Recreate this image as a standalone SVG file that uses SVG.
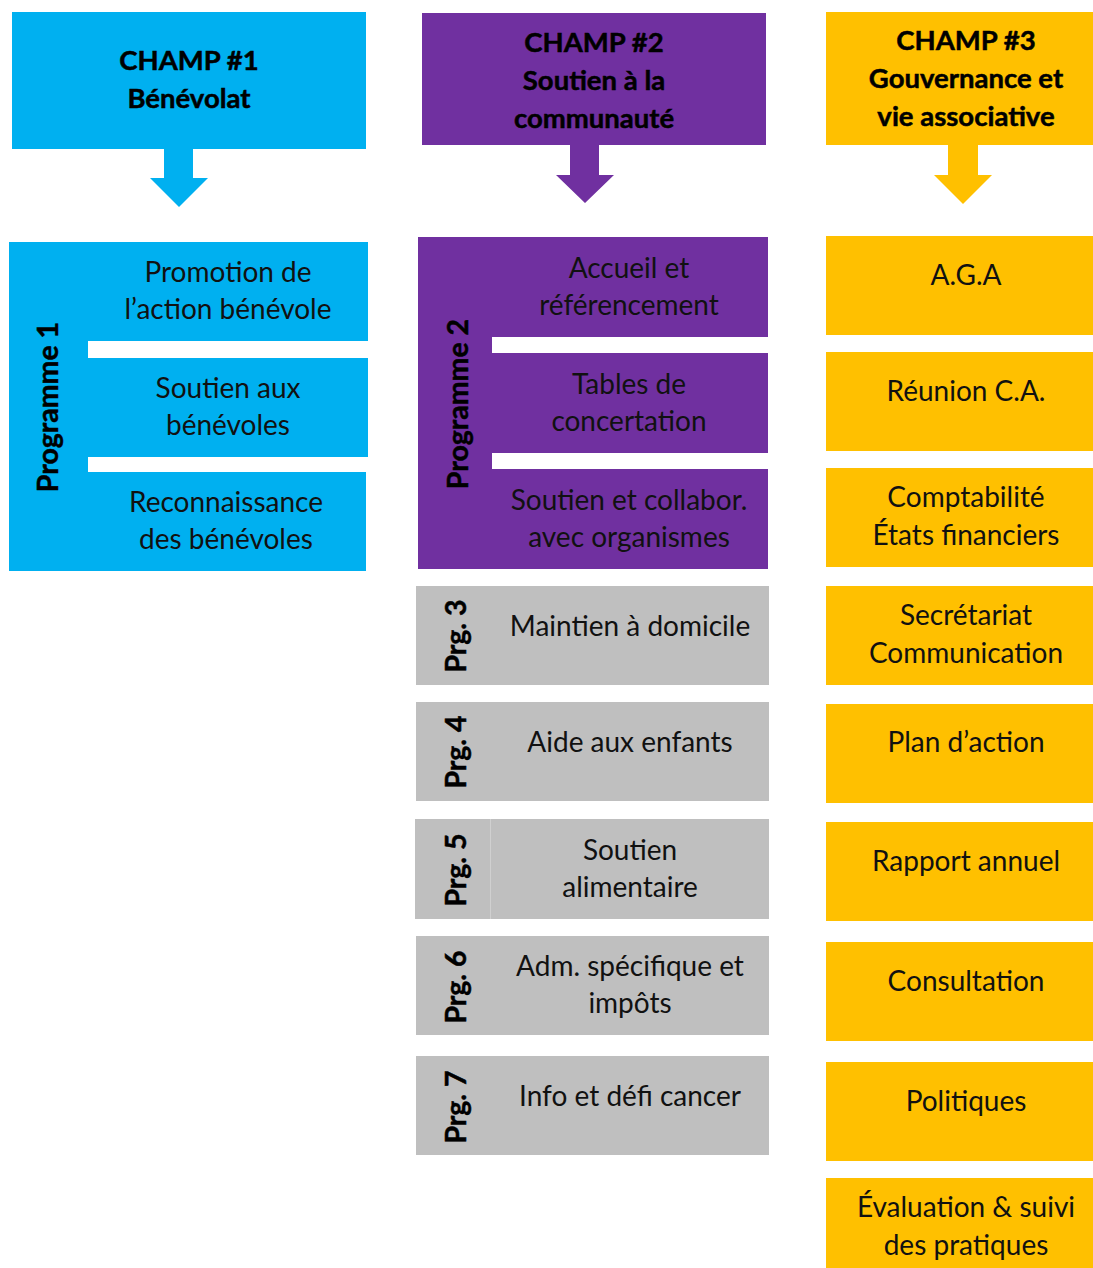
<svg xmlns="http://www.w3.org/2000/svg" width="1093" height="1268" viewBox="0 0 1093 1268">
<style>
.t{font-family:Lato,"Liberation Sans",sans-serif;font-size:28px;fill:#111;text-anchor:middle}
.h{font-family:Lato,"Liberation Sans",sans-serif;font-size:27.5px;font-weight:bold;fill:#000;stroke:#000;stroke-width:0.5px;text-anchor:middle}
.v{font-family:Lato,"Liberation Sans",sans-serif;font-size:28.5px;font-weight:bold;fill:#000;stroke:#000;stroke-width:0.5px;text-anchor:middle}
.b{fill:#00b0f0}.p{fill:#7030a0}.y{fill:#ffc000}.g{fill:#bfbfbf}
</style>
<rect width="1093" height="1268" fill="#fff"/>
<g id="champ1">
<rect class="b" x="12" y="12" width="354" height="137"/>
<text class="h" x="189" y="70">CHAMP #1</text>
<text class="h" x="189" y="108">Bénévolat</text>
</g>
<g id="champ2">
<rect class="p" x="422" y="13" width="344" height="132"/>
<text class="h" x="594" y="52">CHAMP #2</text>
<text class="h" x="594" y="90">Soutien à la</text>
<text class="h" x="594" y="128">communauté</text>
</g>
<g id="champ3">
<rect class="y" x="826" y="12" width="267" height="133"/>
<text class="h" x="966" y="50">CHAMP #3</text>
<text class="h" x="966" y="88">Gouvernance et</text>
<text class="h" x="966" y="126">vie associative</text>
</g>
<g id="connectors">
<path class="b" d="M164 149H193V178H208L179 207L150 178H164Z"/>
<path class="p" d="M570 145H599V175H614L585 203L556 175H570Z"/>
<path class="y" d="M948 145H978V175H992L963 204L934 175H948Z"/>
</g>
<g id="programme1">
<rect class="b" x="9" y="242" width="79" height="329"/>
<text class="v" transform="translate(58 407) rotate(-90)">Programme 1</text>
<rect class="b" x="88" y="242" width="280" height="99"/>
<text class="t" x="228" y="282">Promotion de</text>
<text class="t" x="228" y="319">l’action bénévole</text>
<rect class="b" x="88" y="358" width="280" height="99"/>
<text class="t" x="228" y="398">Soutien aux</text>
<text class="t" x="228" y="435">bénévoles</text>
<rect class="b" x="88" y="472" width="278" height="99"/>
<text class="t" x="226" y="512">Reconnaissance</text>
<text class="t" x="226" y="549">des bénévoles</text>
</g>
<g id="programme2">
<rect class="p" x="418" y="237" width="74" height="332"/>
<text class="v" transform="translate(468 404) rotate(-90)">Programme 2</text>
<rect class="p" x="492" y="237" width="276" height="100"/>
<text class="t" x="629" y="278">Accueil et</text>
<text class="t" x="629" y="315">référencement</text>
<rect class="p" x="492" y="353" width="276" height="100"/>
<text class="t" x="629" y="394">Tables de</text>
<text class="t" x="629" y="431">concertation</text>
<rect class="p" x="492" y="469" width="276" height="100"/>
<text class="t" x="629" y="510">Soutien et collabor.</text>
<text class="t" x="629" y="547">avec organismes</text>
</g>
<g id="prg3">
<rect class="g" x="416" y="586" width="353" height="99"/>
<text class="v" transform="translate(466 636) rotate(-90)">Prg. 3</text>
<text class="t" x="630" y="636">Maintien à domicile</text>
</g>
<g id="prg4">
<rect class="g" x="416" y="702" width="353" height="99"/>
<text class="v" transform="translate(466 752) rotate(-90)">Prg. 4</text>
<text class="t" x="630" y="752">Aide aux enfants</text>
</g>
<g id="prg5">
<rect class="g" x="415" y="819" width="354" height="100"/>
<line x1="490.5" y1="819" x2="490.5" y2="919" stroke="#d0d0d0" stroke-width="1"/>
<text class="v" transform="translate(466 870) rotate(-90)">Prg. 5</text>
<text class="t" x="630" y="860">Soutien</text>
<text class="t" x="630" y="897">alimentaire</text>
</g>
<g id="prg6">
<rect class="g" x="416" y="936" width="353" height="99"/>
<text class="v" transform="translate(466 987) rotate(-90)">Prg. 6</text>
<text class="t" x="630" y="976">Adm. spécifique et</text>
<text class="t" x="630" y="1013">impôts</text>
</g>
<g id="prg7">
<rect class="g" x="416" y="1056" width="353" height="99"/>
<text class="v" transform="translate(466 1107) rotate(-90)">Prg. 7</text>
<text class="t" x="630" y="1106">Info et défi cancer</text>
</g>
<g id="aga"><rect class="y" x="826" y="236" width="267" height="99"/><text class="t" x="966" y="285">A.G.A</text></g>
<g id="reunion"><rect class="y" x="826" y="352" width="267" height="99"/><text class="t" x="966" y="401">Réunion C.A.</text></g>
<g id="comptabilite"><rect class="y" x="826" y="468" width="267" height="99"/><text class="t" x="966" y="507">Comptabilité</text><text class="t" x="966" y="545">États financiers</text></g>
<g id="secretariat"><rect class="y" x="826" y="586" width="267" height="99"/><text class="t" x="966" y="625">Secrétariat</text><text class="t" x="966" y="663">Communication</text></g>
<g id="plan"><rect class="y" x="826" y="704" width="267" height="99"/><text class="t" x="966" y="752">Plan d’action</text></g>
<g id="rapport"><rect class="y" x="826" y="822" width="267" height="99"/><text class="t" x="966" y="871">Rapport annuel</text></g>
<g id="consultation"><rect class="y" x="826" y="942" width="267" height="99"/><text class="t" x="966" y="991">Consultation</text></g>
<g id="politiques"><rect class="y" x="826" y="1062" width="267" height="99"/><text class="t" x="966" y="1111">Politiques</text></g>
<g id="evaluation"><rect class="y" x="826" y="1178" width="267" height="90"/><text class="t" x="966" y="1217">Évaluation &amp; suivi</text><text class="t" x="966" y="1255">des pratiques</text></g>
</svg>
